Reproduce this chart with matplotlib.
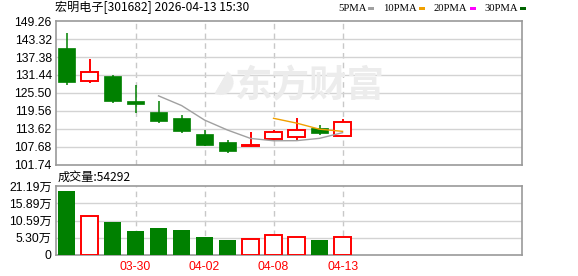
import matplotlib
matplotlib.use('Agg')
import matplotlib.pyplot as plt
import numpy as np

plt.rcParams['font.family'] = ['Liberation Sans', 'Noto Sans CJK SC']

# 日K数据 (2026-03-25 ~ 2026-04-13)
dates = ['03-25', '03-26', '03-27', '03-30', '03-31', '04-01', '04-02',
         '04-03', '04-07', '04-08', '04-09', '04-10', '04-13']
opens = [140.35, 129.35, 131.11, 122.90, 119.23, 117.25, 112.07,
         109.33, 108.10, 110.42, 110.88, 113.85, 111.20]
highs = [145.30, 136.70, 131.30, 128.14, 122.76, 118.24, 113.20,
         109.99, 112.50, 113.29, 117.15, 114.94, 116.92]
lows = [128.25, 128.90, 122.30, 119.00, 115.70, 112.40, 108.10,
        105.80, 107.60, 109.76, 110.10, 111.64, 111.20]
closes = [129.03, 132.43, 122.96, 122.00, 116.37, 113.06, 108.44,
          106.46, 108.20, 112.53, 113.20, 112.30, 115.82]
volumes = [19.65, 11.88, 10.13, 7.37, 8.29, 7.68, 5.53,
           4.61, 4.81, 6.04, 5.60, 4.61, 5.43]  # 万

price_ticks = [101.74, 107.68, 113.62, 119.56, 125.50, 131.44, 137.38, 143.32, 149.26]
vol_ticks = [0, 5.30, 10.59, 15.89, 21.19]
vol_labels = ['0', '5.30万', '10.59万', '15.89万', '21.19万']
date_ticks = ['03-30', '04-02', '04-08', '04-13']

RED = '#ff0000'
GREEN = '#008000'
GRID = '#d3d3d3'
FRAME = '#999999'

closes_arr = np.array(closes)


def moving_avg(arr, n):
    out = np.full(len(arr), np.nan)
    for i in range(n - 1, len(arr)):
        out[i] = arr[i - n + 1:i + 1].mean()
    return out


ma5 = moving_avg(closes_arr, 5)
ma10 = moving_avg(closes_arr, 10)

fig = plt.figure(figsize=(5.78, 2.76), dpi=100)
ax = fig.add_axes([0.0969, 0.4022, 0.8062, 0.5217])
axv = fig.add_axes([0.0969, 0.0761, 0.8062, 0.2500])

x = np.arange(len(dates))
w = 0.74
xlim = (-0.457, 19.8)
date_pos = [dates.index(d) for d in date_ticks]

for a in (ax, axv):
    a.set_xlim(*xlim)
    for s in a.spines.values():
        s.set_color(FRAME)
        s.set_linewidth(1.2)
    for xp in date_pos:
        a.axvline(xp, color='#c8c8c8', lw=1, ls=(0, (4, 3)), zorder=0)
    a.tick_params(length=0, labelsize=8.7, pad=3)

# 主图
ax.set_ylim(price_ticks[0], price_ticks[-1])
ax.set_yticks(price_ticks)
ax.set_yticklabels(['%.2f' % t for t in price_ticks])
ax.set_xticks([])
for t in price_ticks[1:-1]:
    ax.axhline(t, color=GRID, lw=1, zorder=0)

# 水印
ax.text(0.384, 0.55, '东方财富', transform=ax.transAxes, fontsize=27,
        family=['Noto Sans CJK SC'], fontweight='bold', color='#ececec',
        va='center', ha='left', zorder=0)
ax.text(0.33, 0.55, '◗', transform=ax.transAxes, fontsize=24,
        family=['DejaVu Sans'], color='#ececec', rotation=-30,
        va='center', ha='left', zorder=0)

for i in range(len(dates)):
    o, h, l, c = opens[i], highs[i], lows[i], closes[i]
    if c >= o:
        ax.vlines(x[i], l, o, color=RED, lw=1.4, zorder=2)
        ax.vlines(x[i], c, h, color=RED, lw=1.4, zorder=2)
        body_h = max(c - o, 0.08)
        ax.add_patch(plt.Rectangle((x[i] - w / 2, o), w, body_h, facecolor='white',
                                   edgecolor=RED, lw=1.4, zorder=3))
    else:
        ax.vlines(x[i], l, h, color=GREEN, lw=1.1, zorder=2)
        ax.add_patch(plt.Rectangle((x[i] - w / 2, c), w, o - c, facecolor=GREEN,
                                   edgecolor=GREEN, lw=0.5, zorder=3))

ax.plot(x, ma5, color='#a0a0a0', lw=1, zorder=4)
ax.plot(x, ma10, color='#f0a000', lw=1, zorder=4)

# 成交量
axv.set_ylim(0, vol_ticks[-1])
axv.set_yticks(vol_ticks)
axv.set_yticklabels(vol_labels)
for t in vol_ticks[1:-1]:
    axv.axhline(t, color=GRID, lw=1, zorder=0)
for i in range(len(dates)):
    if closes[i] >= opens[i]:
        axv.bar(x[i], volumes[i], width=w, facecolor='white', edgecolor=RED, lw=1.4, zorder=3)
    else:
        axv.bar(x[i], volumes[i], width=w, color=GREEN, zorder=3)
axv.set_xticks(date_pos)
axv.set_xticklabels(date_ticks, color=RED, fontsize=8.7)
axv.tick_params(axis='x', pad=4)

# 标题与图例
fig.text(0.0951, 0.972, '宏明电子[301682] 2026-04-13 15:30', fontsize=8.7,
         family=['Noto Sans CJK SC'], va='center', ha='left')
fig.text(0.1003, 0.358, '成交量:54292', fontsize=8.7,
         family=['Noto Sans CJK SC'], va='center', ha='left')

legend_items = [('5PMA', '#a0a0a0'), ('10PMA', '#f0a000'),
                ('20PMA', '#ff00ff'), ('30PMA', '#006400')]
lx = 338
for name, col in legend_items:
    t = fig.text(lx / 578, 0.968, name, fontsize=7.7, va='center', ha='left',
                 family=['Liberation Serif'])
    fig.canvas.draw()
    bb = t.get_window_extent()
    mx = bb.x1 + 2
    fig.patches.append(plt.Rectangle((mx / 578, 0.962), 6 / 578, 3.5 / 276,
                                     transform=fig.transFigure, facecolor=col,
                                     edgecolor='none', figure=fig))
    lx = mx + 6 + 9

fig.savefig('out.png', dpi=100)
